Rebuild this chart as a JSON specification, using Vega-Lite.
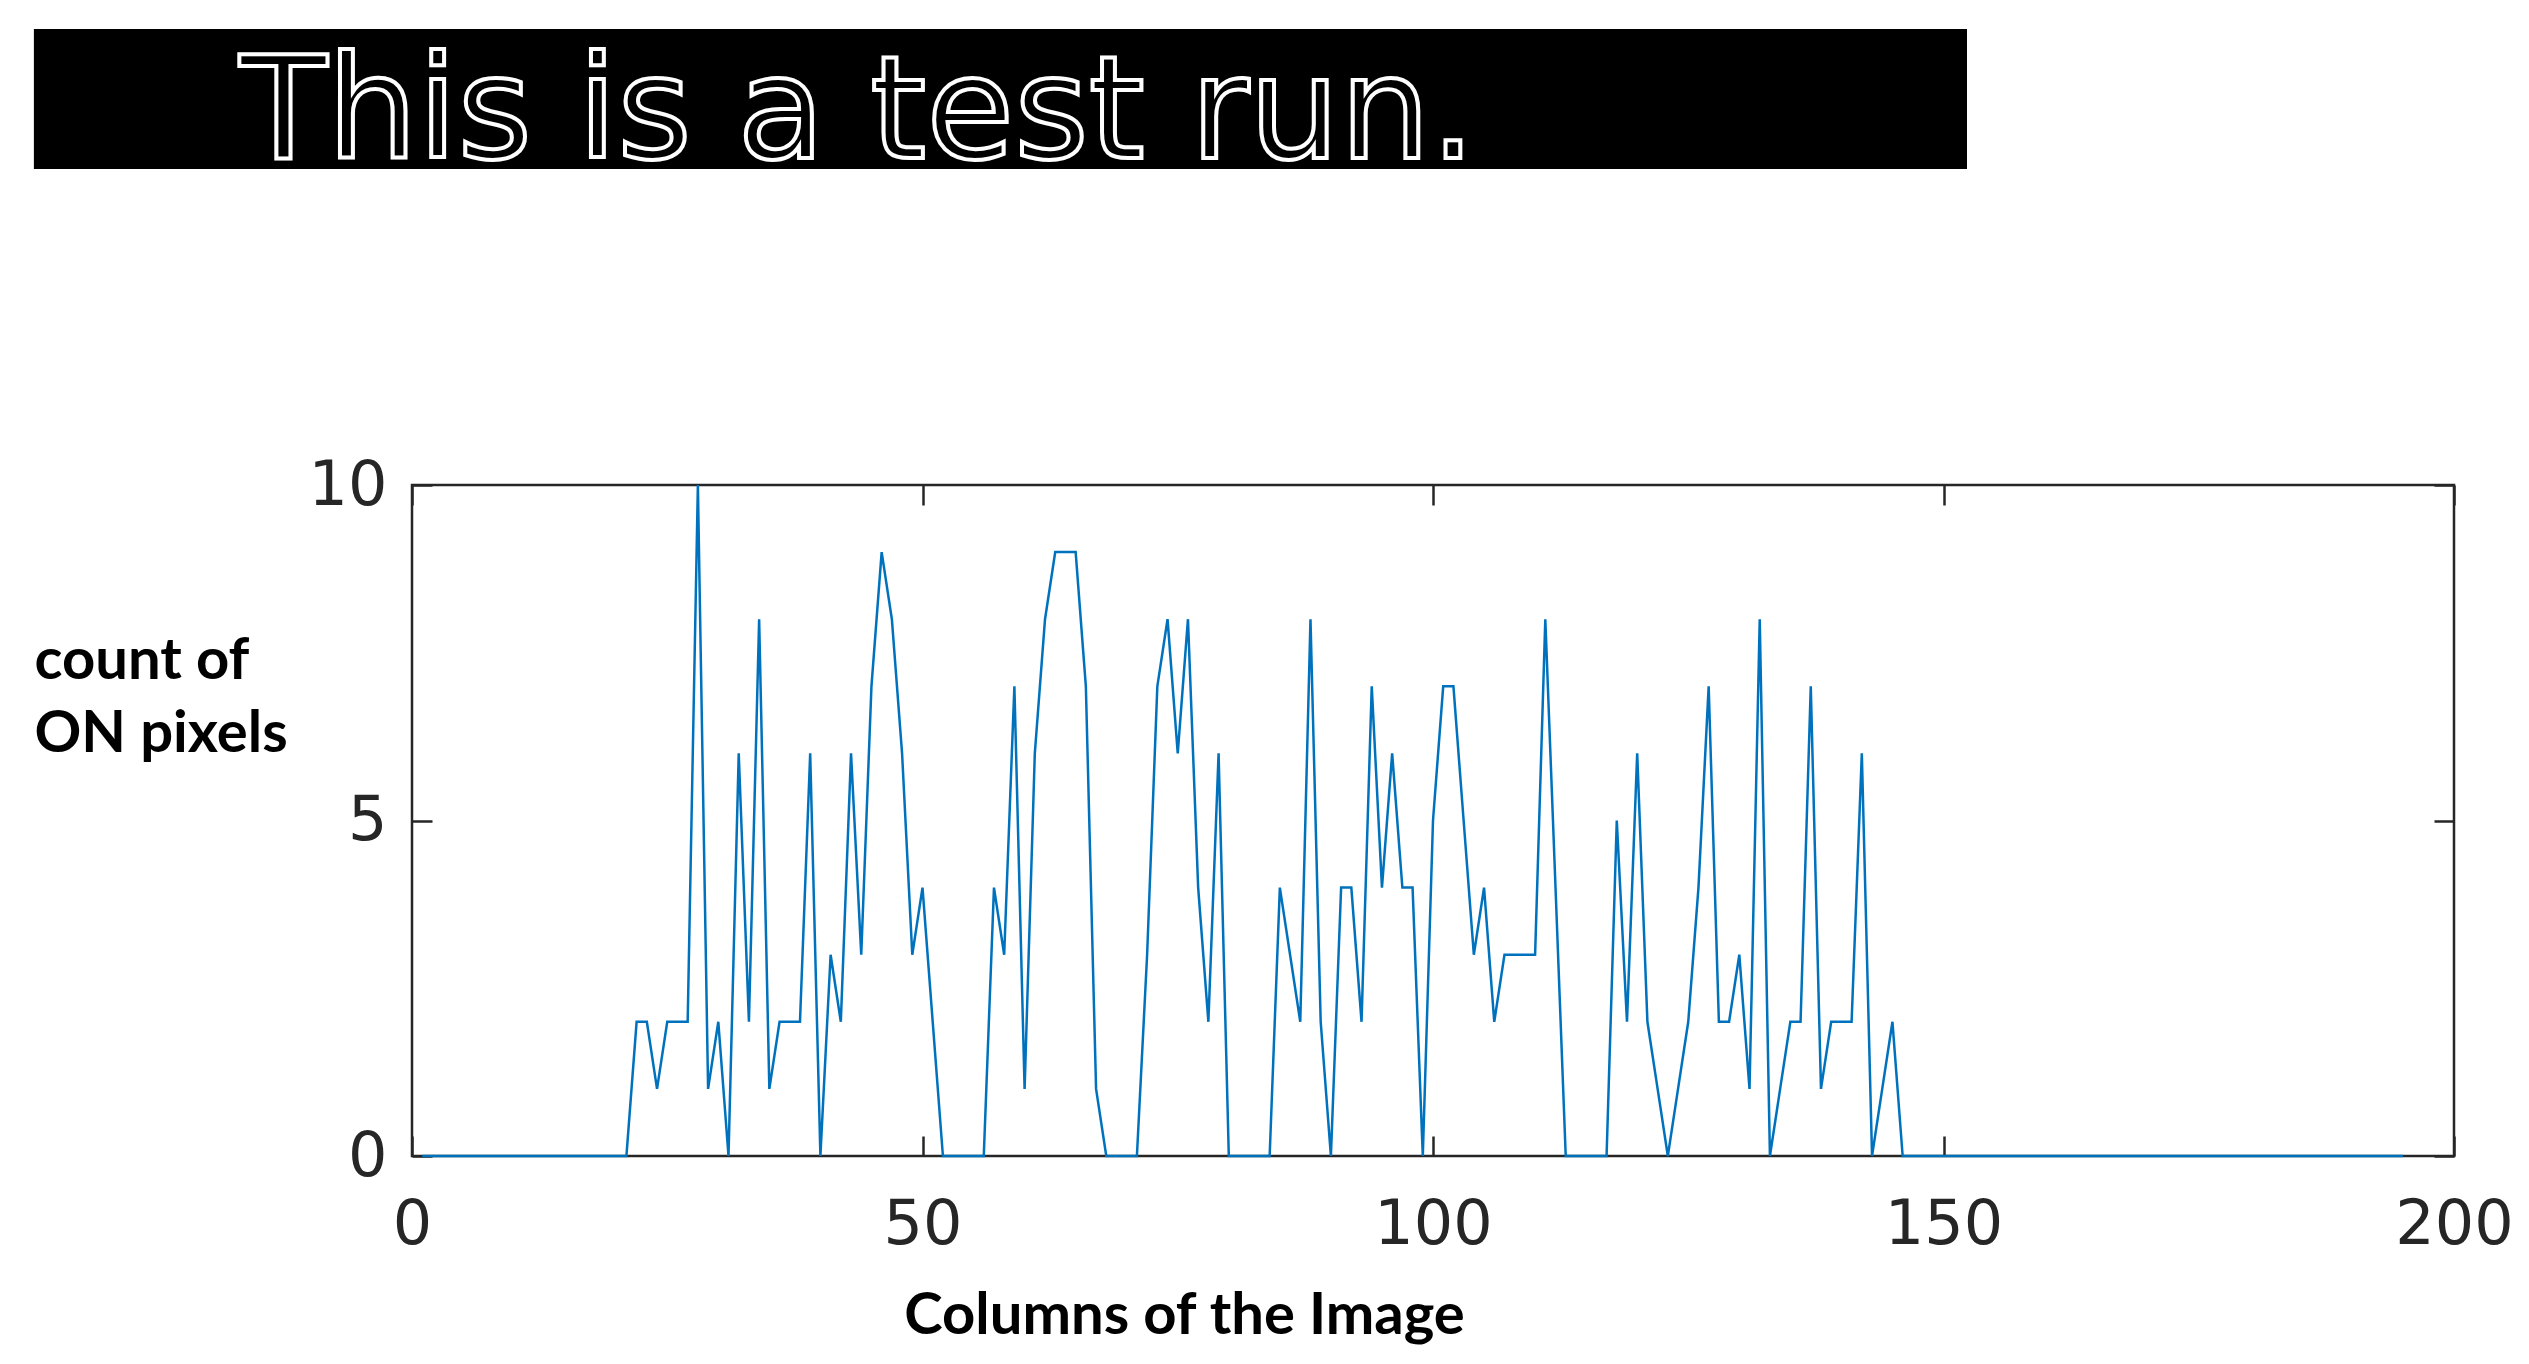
{
  "$schema": "https://vega.github.io/schema/vega-lite/v6.json",
  "background": "white",
  "padding": {"left": 32, "top": 29, "right": 10, "bottom": 10},
  "spacing": 265,
  "config": {"view": {"stroke": null}},
  "vconcat": [
    {
      "width": 1555,
      "height": 140,
      "data": {"values": [{"label": "This is a test run.", "col": 20.8, "row": 12.9, "firstCol": 0, "lastCol": 195.3, "topRow": 0, "bottomRow": 14}]},
      "layer": [
        {
          "mark": {"type": "rect", "color": "black"},
          "encoding": {
            "x": {"field": "firstCol", "type": "quantitative", "scale": {"domain": [38.2, 195.3], "nice": false, "zero": false}, "axis": null},
            "x2": {"field": "lastCol"},
            "y": {"field": "topRow", "type": "quantitative", "scale": {"domain": [0, 14], "reverse": true, "nice": false, "zero": false}, "axis": null},
            "y2": {"field": "bottomRow"}
          }
        },
        {
          "mark": {"type": "text", "align": "left", "baseline": "alphabetic", "font": "DejaVu Sans", "fontSize": 143, "fill": "black", "stroke": "white", "strokeWidth": 4},
          "encoding": {
            "x": {"field": "col", "type": "quantitative", "axis": null},
            "y": {"field": "row", "type": "quantitative", "axis": null},
            "text": {"field": "label"}
          }
        }
      ]
    },
    {
      "width": 2042,
      "height": 671,
      "view": {"stroke": "#262626", "strokeWidth": 2.5},
      "data": {"values": [
        {"column": 1, "count": 0}, {"column": 2, "count": 0}, {"column": 3, "count": 0}, {"column": 4, "count": 0}, {"column": 5, "count": 0},
        {"column": 6, "count": 0}, {"column": 7, "count": 0}, {"column": 8, "count": 0}, {"column": 9, "count": 0}, {"column": 10, "count": 0},
        {"column": 11, "count": 0}, {"column": 12, "count": 0}, {"column": 13, "count": 0}, {"column": 14, "count": 0}, {"column": 15, "count": 0},
        {"column": 16, "count": 0}, {"column": 17, "count": 0}, {"column": 18, "count": 0}, {"column": 19, "count": 0}, {"column": 20, "count": 0},
        {"column": 21, "count": 0}, {"column": 22, "count": 2}, {"column": 23, "count": 2}, {"column": 24, "count": 1}, {"column": 25, "count": 2},
        {"column": 26, "count": 2}, {"column": 27, "count": 2}, {"column": 28, "count": 10}, {"column": 29, "count": 1}, {"column": 30, "count": 2},
        {"column": 31, "count": 0}, {"column": 32, "count": 6}, {"column": 33, "count": 2}, {"column": 34, "count": 8}, {"column": 35, "count": 1},
        {"column": 36, "count": 2}, {"column": 37, "count": 2}, {"column": 38, "count": 2}, {"column": 39, "count": 6}, {"column": 40, "count": 0},
        {"column": 41, "count": 3}, {"column": 42, "count": 2}, {"column": 43, "count": 6}, {"column": 44, "count": 3}, {"column": 45, "count": 7},
        {"column": 46, "count": 9}, {"column": 47, "count": 8}, {"column": 48, "count": 6}, {"column": 49, "count": 3}, {"column": 50, "count": 4},
        {"column": 51, "count": 2}, {"column": 52, "count": 0}, {"column": 53, "count": 0}, {"column": 54, "count": 0}, {"column": 55, "count": 0},
        {"column": 56, "count": 0}, {"column": 57, "count": 4}, {"column": 58, "count": 3}, {"column": 59, "count": 7}, {"column": 60, "count": 1},
        {"column": 61, "count": 6}, {"column": 62, "count": 8}, {"column": 63, "count": 9}, {"column": 64, "count": 9}, {"column": 65, "count": 9},
        {"column": 66, "count": 7}, {"column": 67, "count": 1}, {"column": 68, "count": 0}, {"column": 69, "count": 0}, {"column": 70, "count": 0},
        {"column": 71, "count": 0}, {"column": 72, "count": 3}, {"column": 73, "count": 7}, {"column": 74, "count": 8}, {"column": 75, "count": 6},
        {"column": 76, "count": 8}, {"column": 77, "count": 4}, {"column": 78, "count": 2}, {"column": 79, "count": 6}, {"column": 80, "count": 0},
        {"column": 81, "count": 0}, {"column": 82, "count": 0}, {"column": 83, "count": 0}, {"column": 84, "count": 0}, {"column": 85, "count": 4},
        {"column": 86, "count": 3}, {"column": 87, "count": 2}, {"column": 88, "count": 8}, {"column": 89, "count": 2}, {"column": 90, "count": 0},
        {"column": 91, "count": 4}, {"column": 92, "count": 4}, {"column": 93, "count": 2}, {"column": 94, "count": 7}, {"column": 95, "count": 4},
        {"column": 96, "count": 6}, {"column": 97, "count": 4}, {"column": 98, "count": 4}, {"column": 99, "count": 0}, {"column": 100, "count": 5},
        {"column": 101, "count": 7}, {"column": 102, "count": 7}, {"column": 103, "count": 5}, {"column": 104, "count": 3}, {"column": 105, "count": 4},
        {"column": 106, "count": 2}, {"column": 107, "count": 3}, {"column": 108, "count": 3}, {"column": 109, "count": 3}, {"column": 110, "count": 3},
        {"column": 111, "count": 8}, {"column": 112, "count": 4}, {"column": 113, "count": 0}, {"column": 114, "count": 0}, {"column": 115, "count": 0},
        {"column": 116, "count": 0}, {"column": 117, "count": 0}, {"column": 118, "count": 5}, {"column": 119, "count": 2}, {"column": 120, "count": 6},
        {"column": 121, "count": 2}, {"column": 122, "count": 1}, {"column": 123, "count": 0}, {"column": 124, "count": 1}, {"column": 125, "count": 2},
        {"column": 126, "count": 4}, {"column": 127, "count": 7}, {"column": 128, "count": 2}, {"column": 129, "count": 2}, {"column": 130, "count": 3},
        {"column": 131, "count": 1}, {"column": 132, "count": 8}, {"column": 133, "count": 0}, {"column": 134, "count": 1}, {"column": 135, "count": 2},
        {"column": 136, "count": 2}, {"column": 137, "count": 7}, {"column": 138, "count": 1}, {"column": 139, "count": 2}, {"column": 140, "count": 2},
        {"column": 141, "count": 2}, {"column": 142, "count": 6}, {"column": 143, "count": 0}, {"column": 144, "count": 1}, {"column": 145, "count": 2},
        {"column": 146, "count": 0}, {"column": 147, "count": 0}, {"column": 148, "count": 0}, {"column": 149, "count": 0}, {"column": 150, "count": 0},
        {"column": 151, "count": 0}, {"column": 152, "count": 0}, {"column": 153, "count": 0}, {"column": 154, "count": 0}, {"column": 155, "count": 0},
        {"column": 156, "count": 0}, {"column": 157, "count": 0}, {"column": 158, "count": 0}, {"column": 159, "count": 0}, {"column": 160, "count": 0},
        {"column": 161, "count": 0}, {"column": 162, "count": 0}, {"column": 163, "count": 0}, {"column": 164, "count": 0}, {"column": 165, "count": 0},
        {"column": 166, "count": 0}, {"column": 167, "count": 0}, {"column": 168, "count": 0}, {"column": 169, "count": 0}, {"column": 170, "count": 0},
        {"column": 171, "count": 0}, {"column": 172, "count": 0}, {"column": 173, "count": 0}, {"column": 174, "count": 0}, {"column": 175, "count": 0},
        {"column": 176, "count": 0}, {"column": 177, "count": 0}, {"column": 178, "count": 0}, {"column": 179, "count": 0}, {"column": 180, "count": 0},
        {"column": 181, "count": 0}, {"column": 182, "count": 0}, {"column": 183, "count": 0}, {"column": 184, "count": 0}, {"column": 185, "count": 0},
        {"column": 186, "count": 0}, {"column": 187, "count": 0}, {"column": 188, "count": 0}, {"column": 189, "count": 0}, {"column": 190, "count": 0},
        {"column": 191, "count": 0}, {"column": 192, "count": 0}, {"column": 193, "count": 0}, {"column": 194, "count": 0}, {"column": 195, "count": 0}
      ]},
      "layer": [
        {
          "mark": {"type": "line", "color": "#0072BD", "strokeWidth": 2.5},
          "encoding": {
            "x": {"field": "column", "type": "quantitative", "scale": {"domain": [0, 200], "nice": false, "zero": false},
              "axis": {"orient": "bottom", "values": [0, 50, 100, 150, 200], "format": "d", "domain": false, "grid": false,
                "ticks": true, "tickSize": -20, "tickWidth": 2.5, "tickColor": "#262626",
                "labelFont": "DejaVu Sans", "labelFontSize": 62, "labelColor": "#262626", "labelPadding": 58, "labelFlush": false, "labelOverlap": false,
                "title": "Columns of the Image", "titleFont": "Lato", "titleFontWeight": "bold", "titleFontSize": 58, "titleColor": "black",
                "titleX": 772, "titleY": 177, "titleAlign": "center", "titleBaseline": "alphabetic"}},
            "y": {"field": "count", "type": "quantitative", "scale": {"domain": [0, 10], "nice": false, "zero": false},
              "axis": {"orient": "left", "values": [0, 5, 10], "format": "d", "domain": false, "grid": false,
                "ticks": true, "tickSize": -20, "tickWidth": 2.5, "tickColor": "#262626",
                "labelFont": "DejaVu Sans", "labelFontSize": 62, "labelColor": "#262626", "labelPadding": 45, "labelOverlap": false,
                "title": ["count of", "ON pixels"], "titleFont": "Lato", "titleFontWeight": "bold", "titleFontSize": 58, "titleColor": "black",
                "titleAngle": 0, "titleX": -378, "titleY": 193, "titleAlign": "left", "titleBaseline": "alphabetic", "titleLineHeight": 73}}
          }
        },
        {
          "mark": {"type": "line", "color": "#0072BD", "strokeWidth": 2.5, "strokeOpacity": 0},
          "encoding": {
            "x": {"field": "column", "type": "quantitative",
              "axis": {"orient": "top", "values": [0, 50, 100, 150, 200], "domain": false, "grid": false, "labels": false,
                "ticks": true, "tickSize": -20, "tickWidth": 2.5, "tickColor": "#262626", "title": null}},
            "y": {"field": "count", "type": "quantitative",
              "axis": {"orient": "right", "values": [0, 5, 10], "domain": false, "grid": false, "labels": false,
                "ticks": true, "tickSize": -20, "tickWidth": 2.5, "tickColor": "#262626", "title": null}}
          }
        }
      ],
      "resolve": {"axis": {"x": "independent", "y": "independent"}}
    }
  ]
}
